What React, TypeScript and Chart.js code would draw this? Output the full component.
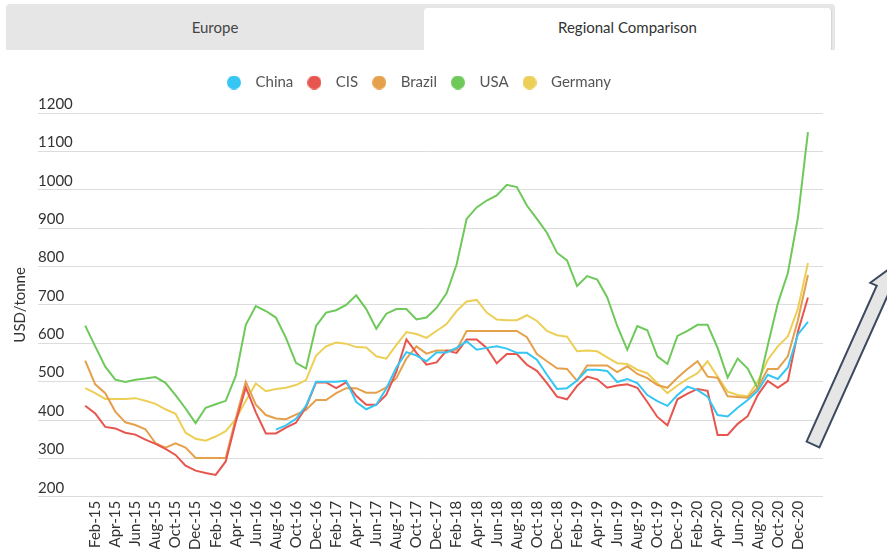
import React, { useEffect, useRef } from 'react';
import { Chart, registerables } from 'chart.js';

Chart.register(...registerables);

const months = [
  'Jan-15', 'Feb-15', 'Mar-15', 'Apr-15', 'May-15', 'Jun-15', 'Jul-15', 'Aug-15', 'Sep-15', 'Oct-15', 'Nov-15', 'Dec-15',
  'Jan-16', 'Feb-16', 'Mar-16', 'Apr-16', 'May-16', 'Jun-16', 'Jul-16', 'Aug-16', 'Sep-16', 'Oct-16', 'Nov-16', 'Dec-16',
  'Jan-17', 'Feb-17', 'Mar-17', 'Apr-17', 'May-17', 'Jun-17', 'Jul-17', 'Aug-17', 'Sep-17', 'Oct-17', 'Nov-17', 'Dec-17',
  'Jan-18', 'Feb-18', 'Mar-18', 'Apr-18', 'May-18', 'Jun-18', 'Jul-18', 'Aug-18', 'Sep-18', 'Oct-18', 'Nov-18', 'Dec-18',
  'Jan-19', 'Feb-19', 'Mar-19', 'Apr-19', 'May-19', 'Jun-19', 'Jul-19', 'Aug-19', 'Sep-19', 'Oct-19', 'Nov-19', 'Dec-19',
  'Jan-20', 'Feb-20', 'Mar-20', 'Apr-20', 'May-20', 'Jun-20', 'Jul-20', 'Aug-20', 'Sep-20', 'Oct-20', 'Nov-20', 'Dec-20',
  'Jan-21',
];

// tick labels shown on the x axis (every second month)
const tickLabels = [
  'Feb-15', 'Apr-15', 'Jun-15', 'Aug-15', 'Oct-15', 'Dec-15',
  'Feb-16', 'Apr-16', 'Jun-16', 'Aug-16', 'Oct-16', 'Dec-16',
  'Feb-17', 'Apr-17', 'Jun-17', 'Aug-17', 'Oct-17', 'Dec-17',
  'Feb-18', 'Apr-18', 'Jun-18', 'Aug-18', 'Oct-18', 'Dec-18',
  'Feb-19', 'Apr-19', 'Jun-19', 'Aug-19', 'Oct-19', 'Dec-19',
  'Feb-20', 'Apr-20', 'Jun-20', 'Aug-20', 'Oct-20', 'Dec-20',
];

const china = [
  null, null, null, null, null, null, null, null, null, null, null, null,
  null, null, null, null, null, null, null, 375, 386, 403, 437, 500,
  500, 500, 502, 447, 428, 440, 482, 537, 577, 568, 553, 576,
  576, 588, 605, 583, 588, 592, 586, 575, 575, 557, 518, 481,
  483, 503, 531, 531, 528, 499, 507, 496, 465, 449, 437, 465,
  487, 478, 461, 413, 409, 432, 452, 476, 518, 507, 537, 623,
  656,
];

const cis = [
  437, 417, 382, 378, 367, 362, 349, 338, 325, 309, 281, 268,
  262, 257, 292, 395, 485, 420, 365, 365, 380, 393, 434, 498,
  498, 483, 498, 463, 440, 440, 466, 526, 610, 575, 544, 550,
  581, 575, 610, 610, 588, 548, 572, 572, 544, 528, 496, 461,
  454, 489, 513, 506, 484, 490, 493, 484, 447, 408, 386, 454,
  469, 481, 476, 361, 361, 390, 410, 465, 502, 484, 502, 630,
  719,
];

const brazil = [
  555, 493, 470, 422, 394, 387, 376, 340, 328, 339, 328, 301,
  301, 301, 301, 404, 500, 440, 413, 404, 402, 414, 426, 452,
  452, 470, 483, 483, 471, 471, 485, 509, 560, 592, 573, 581,
  581, 583, 632, 632, 632, 632, 632, 632, 616, 572, 553, 535,
  533, 502, 542, 542, 542, 525, 540, 520, 509, 491, 484, 510,
  533, 553, 513, 510, 462, 460, 458, 484, 533, 533, 566, 660,
  778,
];

const usa = [
  646, 592, 539, 505, 499, 505, 508, 512, 497, 465, 430, 392,
  432, 441, 450, 515, 648, 697, 684, 667, 614, 549, 534, 645,
  680, 686, 700, 725, 689, 638, 677, 689, 689, 662, 667, 692,
  730, 805, 924, 954, 972, 985, 1013, 1007, 959, 924, 888, 836,
  816, 749, 775, 766, 720, 645, 583, 645, 634, 566, 546, 619,
  632, 648, 648, 588, 511, 560, 534, 482, 595, 704, 783, 927,
  1150,
];

const germany = [
  483, 470, 455, 455, 455, 457, 450, 442, 428, 416, 367, 351,
  346, 357, 371, 402, 450, 495, 475, 481, 484, 491, 504, 568,
  592, 602, 599, 590, 589, 566, 560, 596, 629, 624, 614, 632,
  650, 684, 709, 713, 680, 662, 660, 660, 673, 658, 632, 621,
  617, 579, 581, 579, 563, 548, 546, 531, 522, 496, 470, 490,
  507, 522, 553, 513, 474, 465, 462, 500, 557, 592, 618, 690,
  809,
];

const seriesNames = ['China', 'CIS', 'Brazil', 'USA', 'Germany'];
const seriesValues = [china, cis, brazil, usa, germany];
const seriesColors = ['#35c6f4', '#e8554e', '#e5a04c', '#6ec95a', '#eccf57'];

const yMin = 200;
const yMax = 1200;
const yStep = 100;

const FONT = 'Lato, "Noto Sans", sans-serif';

function makeDot(color: string) {
  const c = document.createElement('canvas');
  c.width = 14;
  c.height = 14;
  const g = c.getContext('2d')!;
  g.fillStyle = color;
  g.beginPath();
  g.arc(7, 7, 7, 0, Math.PI * 2);
  g.fill();
  return c;
}

const legendGap = {
  id: 'legendGap',
  beforeInit(chart: any) {
    const legend = chart.legend;
    if (!legend) return;
    const orig = legend.fit;
    legend.fit = function () {
      orig.call(this);
      this.height += 13;
    };
  },
};

function LineChart() {
  const ref = useRef<HTMLCanvasElement | null>(null);
  useEffect(() => {
    if (!ref.current) return;
    const dots = seriesColors.map(makeDot);
    const chart = new Chart(ref.current, {
      type: 'line',
      data: {
        datasets: seriesNames.map((name, s) => ({
          label: name,
          data: seriesValues[s].map((v, i) => ({ x: i, y: v })),
          borderColor: seriesColors[s],
          backgroundColor: seriesColors[s],
          borderWidth: 2,
          pointRadius: 0,
          tension: 0,
          spanGaps: false,
        })),
      },
      plugins: [legendGap],
      options: {
        animation: false,
        responsive: false,
        maintainAspectRatio: false,
        layout: { padding: { top: 18, right: 10, left: 0, bottom: 0 } },
        plugins: {
          tooltip: { enabled: false },
          legend: {
            position: 'top',
            labels: {
              usePointStyle: true,
              pointStyleWidth: 28,
              boxHeight: 14,
              padding: 7,
              color: '#555',
              font: { family: FONT, size: 15 },
              generateLabels: (ch: any) =>
                Chart.defaults.plugins.legend.labels.generateLabels(ch).map((l: any) => ({
                  ...l,
                  pointStyle: dots[l.datasetIndex],
                })),
            },
          },
        },
        scales: {
          x: {
            type: 'linear',
            min: -4.7,
            max: 73.5,
            grid: { display: false, drawTicks: false },
            border: { display: false },
            afterBuildTicks: (scale: any) => {
              scale.ticks = tickLabels.map((t) => ({ value: months.indexOf(t) }));
            },
            ticks: {
              autoSkip: false,
              minRotation: 90,
              maxRotation: 90,
              padding: 4,
              color: '#333',
              font: { family: FONT, size: 15 },
              callback: (v: any) => months[v as number] ?? '',
            },
          },
          y: {
            min: yMin,
            max: yMax,
            grid: { color: '#dcdcdc', lineWidth: 1, drawTicks: false },
            border: { display: false },
            ticks: {
              stepSize: yStep,
              mirror: true,
              padding: 0,
              labelOffset: -9,
              color: '#333',
              font: { family: FONT, size: 15 },
              callback: (v: any) => String(v),
            },
            title: {
              display: true,
              text: 'USD/tonne',
              color: '#333',
              font: { family: FONT, size: 15 },
              padding: { top: 3, bottom: 9 },
            },
          },
        },
      },
    });
    return () => chart.destroy();
  }, []);
  return <canvas ref={ref} width={825} height={504} style={{ display: 'block' }} />;
}

export default function App() {
  return (
    <div
      style={{
        position: 'absolute',
        left: 0,
        top: 0,
        width: 887,
        height: 549,
        overflow: 'hidden',
        background: '#fff',
        fontFamily: FONT,
      }}
    >
      <div
        style={{
          position: 'absolute',
          left: 6,
          top: 4,
          width: 829,
          height: 46,
          background: '#e6e6e6',
          borderRadius: '4px 4px 0 0',
        }}
      />
      <div
        style={{
          position: 'absolute',
          left: 6,
          top: 4,
          width: 418,
          height: 46,
          lineHeight: '46px',
          textAlign: 'center',
          fontSize: 15,
          color: '#444',
        }}
      >
        Europe
      </div>
      <div
        style={{
          position: 'absolute',
          left: 424,
          top: 8,
          width: 407,
          height: 42,
          lineHeight: '38px',
          textAlign: 'center',
          fontSize: 15,
          color: '#333',
          background: '#fff',
          borderRadius: '4px 4px 0 0',
          borderRight: '1px solid #d6d6d6',
        }}
      >
        Regional Comparison
      </div>
      <div style={{ position: 'absolute', left: 8, top: 50 }}>
        <LineChart />
      </div>
      <svg
        width={887}
        height={549}
        style={{ position: 'absolute', left: 0, top: 0, pointerEvents: 'none' }}
      >
        <polygon
          points="806.6,441.6 876.7,285.7 870.3,282.8 893.4,265.7 895.9,294.3 889.5,291.4 819.4,447.4"
          fill="#e6e6e6"
          stroke="#3b4a5f"
          strokeWidth={2}
          strokeLinejoin="miter"
        />
      </svg>
    </div>
  );
}
